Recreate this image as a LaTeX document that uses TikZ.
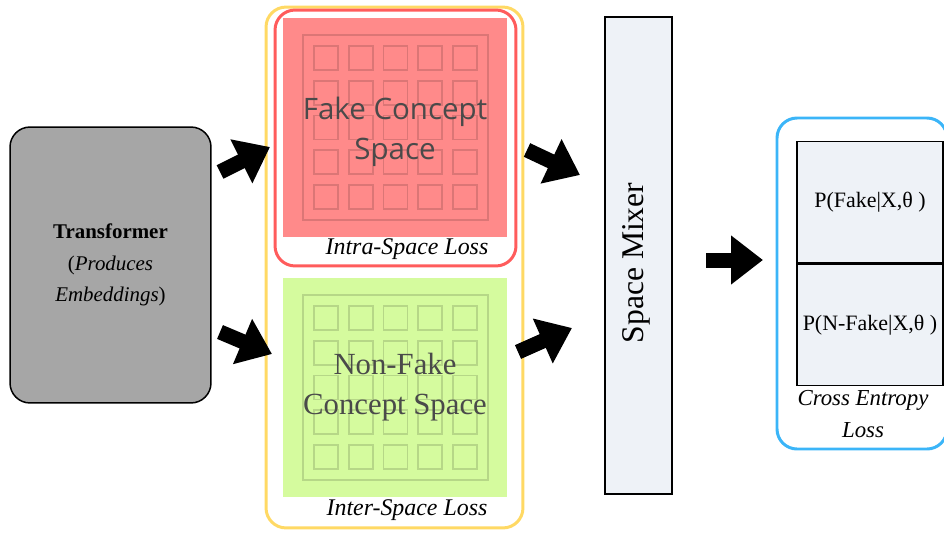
\documentclass[tikz,border=0pt]{standalone}
\usepackage{fontspec}
\setmainfont{Liberation Serif}
\newfontfamily\conceptsans{Open Sans}
\usetikzlibrary{arrows.meta,positioning}

\definecolor{tfgray}{HTML}{A6A6A6}
\definecolor{lossyellow}{HTML}{FFD964}
\definecolor{fakered}{HTML}{FF5C5C}
\definecolor{fakefill}{HTML}{FF8A8A}
\definecolor{realfill}{HTML}{D5FB9E}
\definecolor{mixfill}{HTML}{EEF2F7}
\definecolor{ceblue}{HTML}{3BB5F8}
\definecolor{labelgray}{HTML}{4A4A4A}

\begin{document}
\begin{tikzpicture}[
    x=0.02cm, y=-0.02cm,
    tfbox/.style={rectangle, draw, line width=0.85pt, fill=tfgray, rounded corners=0.4cm,
                  minimum width=4.02cm, minimum height=5.52cm, align=center,
                  font=\fontsize{11.9}{17.9}\selectfont},
    lossbox/.style={rectangle, draw, line width=1.7pt, rounded corners=0.4cm},
    spacefill/.style={rectangle, minimum width=4.48cm, minimum height=4.38cm, inner sep=0pt},
    gridsq/.style={line width=0.9pt, opacity=0.14},
    mixbox/.style={rectangle, draw, line width=1.1pt, fill=mixfill,
                   minimum width=1.34cm, minimum height=9.54cm},
    pcell/.style={rectangle, draw, line width=0.8pt, fill=mixfill,
                  minimum width=2.92cm, minimum height=2.43cm,
                  font=\fontsize{12.5}{15}\selectfont},
    lossl/.style={font=\fontsize{13.6}{16}\selectfont\itshape, inner sep=1pt},
    blockarr/.style={line width=0.3cm, -{Triangle[length=0.64cm, width=0.94cm]}},
  ]
  \useasboundingbox (0,0) rectangle (944,534);

  \node[tfbox] (tf) at (110.5,265) {\textbf{Transformer}\\(\textit{Produces}\\\textit{Embeddings})};

  \node[lossbox, draw=lossyellow, minimum width=5.14cm, minimum height=10.42cm] (inter) at (394.5,267.5) {};
  \node[lossbox, draw=fakered, minimum width=4.82cm, minimum height=5.12cm] (intra) at (395.5,138) {};

  \node[spacefill, fill=fakefill] (fakebg) at (395,127.5) {};
  \node[spacefill, fill=realfill] (realbg) at (395,387.5) {};
  \foreach \cy in {127.5,387.5} {
    \draw[gridsq] (395.5-92.5,\cy-92.5) rectangle (395.5+92.5,\cy+92.5);
    \foreach \gx in {-69.5,-34.75,0,34.75,69.5}
      \foreach \gy in {-69.5,-34.75,0,34.75,69.5}
        \draw[gridsq] (395.5+\gx-12,\cy+\gy-12) rectangle ++(24,24);
  }
  \node[align=center, text=labelgray, font=\conceptsans\fontsize{16.8}{22.7}\selectfont] (fake) at (395,132) {Fake Concept\\Space};
  \node[align=center, text=labelgray, font=\fontsize{17.5}{23.2}\selectfont] (real) at (395,387) {Non-Fake\\Concept Space};
  \node[lossl] (intral) at (407,249) {Intra-Space Loss};
  \node[lossl] (interl) at (407,510) {Inter-Space Loss};

  \node[mixbox] (mixer) at (638.5,255.5) {};
  \node[rotate=90, font=\fontsize{18}{20}\selectfont] (mixl) at (636,263) {Space Mixer};

  \begin{scope}
    \clip (0,0) rectangle (944,534);
    \draw[ceblue, line width=1.7pt, rounded corners=0.4cm] (777,118) rectangle (947,449);
  \end{scope}
  \node[pcell] (pfake) at (870,202) {P(Fake|X,θ )};
  \node[pcell, below=0pt of pfake] (pnfake) {P(N-Fake|X,θ )};
  \node[lossl, align=center, font=\fontsize{13}{18.1}\selectfont\itshape] (cel) at (863,414) {Cross Entropy\\Loss};

  \coordinate (a1s) at (220,172);
  \coordinate (a1e) at (270,147);
  \coordinate (a2s) at (220,332);
  \coordinate (a2e) at (272,354);
  \coordinate (a3s) at (527,150);
  \coordinate (a3e) at (580,175);
  \coordinate (a4s) at (518,352);
  \coordinate (a4e) at (572,328);
  \coordinate (a5s) at (706,260);
  \coordinate (a5e) at (763,260);
  \draw[blockarr] (a1s) -- (a1e);
  \draw[blockarr] (a2s) -- (a2e);
  \draw[blockarr] (a3s) -- (a3e);
  \draw[blockarr] (a4s) -- (a4e);
  \draw[blockarr] (a5s) -- (a5e);
\end{tikzpicture}
\end{document}
